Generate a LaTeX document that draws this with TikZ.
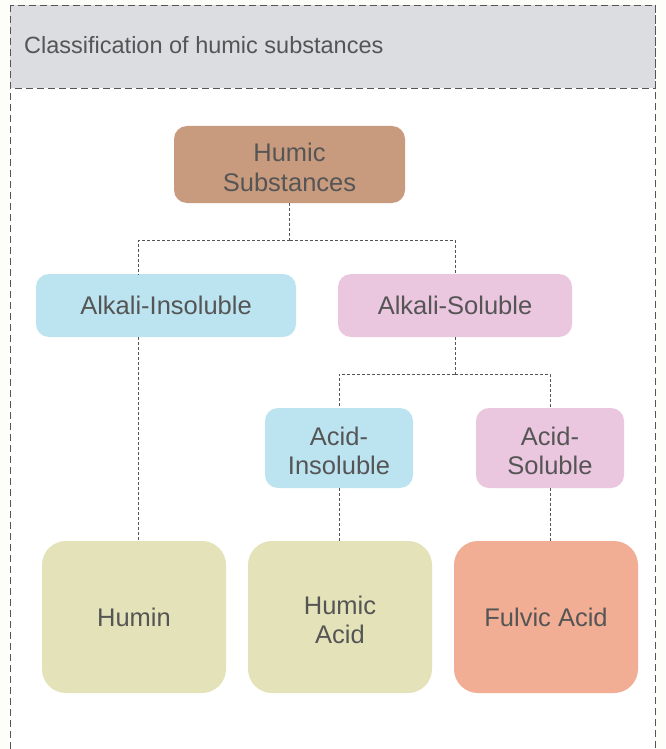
\documentclass[tikz,border=0pt]{standalone}
\usepackage{fontspec}
\setmainfont{Liberation Sans}
\definecolor{bgc}{HTML}{FDFDFA}
\definecolor{hdr}{HTML}{DCDDE0}
\definecolor{txt}{HTML}{555555}
\definecolor{brownc}{HTML}{C99B7E}
\definecolor{bluec}{HTML}{BCE4F0}
\definecolor{pinkc}{HTML}{EBC6DF}
\definecolor{khakic}{HTML}{E4E2B8}
\definecolor{salmonc}{HTML}{F1AE94}
\newcommand\myupstrut{\rule{0pt}{24.6pt}}
\begin{document}
\begin{tikzpicture}[x=1pt,y=-1pt,
  frame/.style={draw=txt, line width=0.9pt, dash pattern=on 7pt off 4pt},
  box/.style={rectangle, rounded corners=13pt, inner sep=0pt, align=center, text=txt,
     font=\fontsize{25.5}{29.5}\selectfont},
  bigbox/.style={box, rounded corners=24pt, minimum width=184pt, minimum height=152pt},
  conn/.style={draw=txt, line width=0.8pt, dash pattern=on 3pt off 2pt}]
\useasboundingbox (0,0) rectangle (665,749);
\fill[bgc] (0,0) rectangle (665,749);
\draw[frame, fill=white] (10,5) rectangle (655,780);
\draw[frame, fill=hdr] (10,5) rectangle (655,88);
\node[anchor=west, text=txt, font=\fontsize{23.5}{28}\selectfont, inner sep=0pt] (title) at (24,45) {Classification of humic substances};

\node[box, fill=brownc, minimum width=231pt, minimum height=77pt] (hs) at (289.5,164.5) {\myupstrut Humic\\Substances};
\node[box, fill=bluec, minimum width=260pt, minimum height=63pt] (ai) at (166,305.5) {Alkali-Insoluble};
\node[box, fill=pinkc, minimum width=234pt, minimum height=63pt] (als) at (455,305.5) {Alkali-Soluble};
\node[box, fill=bluec, minimum width=148pt, minimum height=80pt] (aci) at (339,448) {\myupstrut Acid-\\Insoluble};
\node[box, fill=pinkc, minimum width=148pt, minimum height=80pt] (acs) at (550,448) {\myupstrut Acid-\\Soluble};
\node[bigbox, fill=khakic] (humin) at (134,617) {Humin};
\node[bigbox, fill=khakic] (ha) at (340,617) {\myupstrut Humic\\Acid};
\node[bigbox, fill=salmonc] (fa) at (546,617) {Fulvic Acid};

\coordinate (j1) at (289.5,240);
\coordinate (j2) at (455,374);
\draw[conn] (hs.south) -- (j1);
\draw[conn] (j1) -| ([xshift=-28pt]ai.north);
\draw[conn] (j1) -| (als.north);
\draw[conn] (als.south) -- (j2);
\draw[conn] (j2) -| (aci.north);
\draw[conn] (j2) -| (acs.north);
\draw[conn] ([xshift=-28pt]ai.south) -- ([xshift=-28pt]ai.south |- humin.north);
\draw[conn] (aci.south) -- (aci.south |- ha.north);
\draw[conn] (acs.south) -- (acs.south |- fa.north);
\end{tikzpicture}
\end{document}
